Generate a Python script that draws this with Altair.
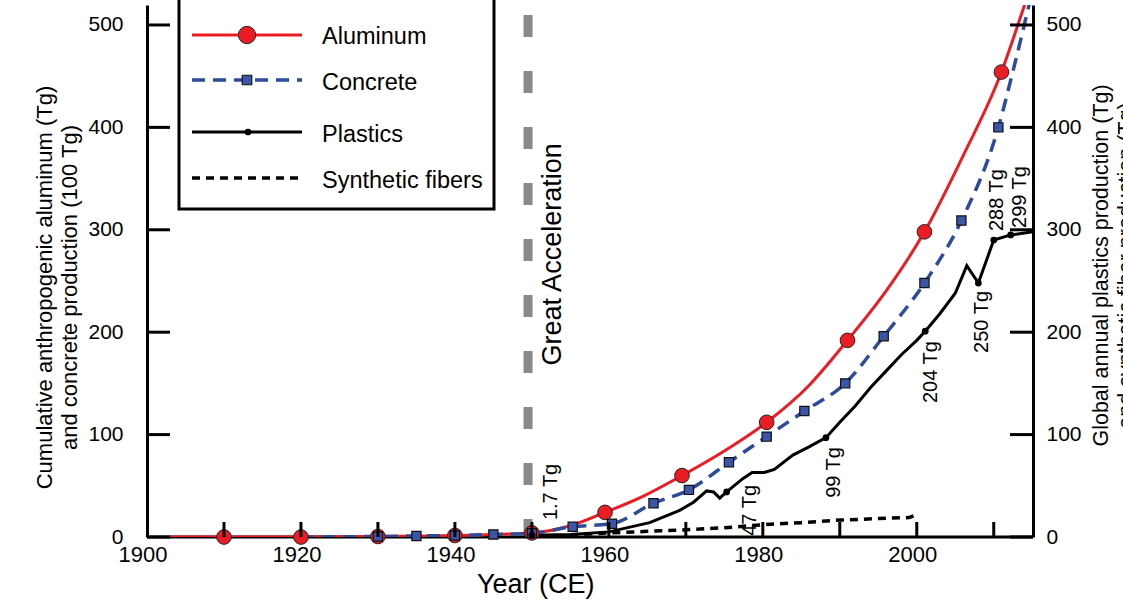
import altair as alt
import pandas as pd

# ---------------- data ----------------
al_line_year = [1903, 1910, 1920, 1930, 1940, 1950, 1955, 1959.5, 1964.5, 1969.5, 1975, 1980.5, 1986, 1991, 1996, 2001, 2006, 2011, 2013, 2015]
al_line_val = [0, 0, 0, 0.5, 1.5, 4, 11, 24, 40, 60, 84, 112, 148, 192, 240, 298, 372, 454, 497, 542]
al_mark_year = [1910, 1920, 1930, 1940, 1950, 1959.5, 1969.5, 1980.5, 1991, 2001, 2011]
al_mark_val = [0, 0, 0.5, 1.5, 4, 24, 60, 112, 192, 298, 454]

co_line_year = [1920, 1925, 1930, 1935, 1940, 1945, 1950, 1955.3, 1960.4, 1965.8, 1970.4, 1975.6, 1980.5, 1985.4, 1990.7, 1995.7, 2001, 2005.8, 2010.6, 2012.5, 2014.6]
co_line_val = [0, 0.2, 0.5, 1, 1.5, 2.5, 3.6, 10, 13, 33, 46, 73, 98, 123, 150, 196, 248, 309, 400, 455, 520]
co_mark_year = [1930, 1935, 1940, 1945, 1950, 1955.3, 1960.4, 1965.8, 1970.4, 1975.6, 1980.5, 1985.4, 1990.7, 1995.7, 2001, 2005.8, 2010.6]
co_mark_val = [0.5, 1, 1.5, 2.5, 3.6, 10, 13, 33, 46, 73, 98, 123, 150, 196, 248, 309, 400]

pl_line_year = [1950, 1955, 1960, 1965.3, 1969.2, 1971, 1972.7, 1973.6, 1974.4, 1975.3, 1977.4, 1978.6, 1980.2, 1981.5, 1983.9, 1986, 1988.2, 1990, 1992, 1994, 1996, 1998, 2000, 2001.1, 2003, 2005, 2006.5, 2008, 2010, 2012.2, 2015.1]
pl_line_val = [1.7, 2.5, 5, 14, 26, 34, 45, 44, 38, 44, 57, 63, 63, 66, 80, 88, 97, 112, 128, 146, 162, 178, 192, 201, 218, 238, 265, 248, 290, 295, 298]
pl_mark_year = [1950, 1975.3, 1988.2, 2001.1, 2008, 2010, 2012.2]
pl_mark_val = [1.7, 44, 97, 201, 248, 290, 295]

ann_text = ["1.7 Tg", "47 Tg", "99 Tg", "204 Tg", "250 Tg", "288 Tg", "299 Tg"]
ann_year = [1952.5, 1978.4, 1989.3, 2001.9, 2008.5, 2010.4, 2013.4]
ann_val = [44, 26, 63, 161, 210, 329, 332]

fi_year = [1955, 1960, 1965, 1970, 1975, 1980, 1985, 1990, 1995, 1999, 2000]
fi_val = [2, 4, 5.5, 7, 9, 12, 14, 16.5, 18, 19, 22]

ga_year = [1949.5]
ga_label = ["Great Acceleration"]
ga_label_year = [1952.7]
ga_label_val = [276]

x_tick_years = [1910, 1920, 1930, 1940, 1950, 1960, 1970, 1980, 1990, 2000, 2010]
x_label_years = [1900, 1920, 1940, 1960, 1980, 2000]
x_title = ["Year (CE)"]
x_title_year = [1950.5]
y_ticks = [0, 100, 200, 300, 400, 500]

legend_names = ["Aluminum", "Concrete", "Plastics", "Synthetic fibers"]

# ---------------- style ----------------
RED = "#ec1c24"
BLUE = "#2e4b9b"
SQ_FILL = "#3b55a8"
GREY = "#8a8a8a"
FONT = "Liberation Sans"

W, H = 886, 532
X0, X1 = 1900, 2015.1
YMAX = 519.5

xs = alt.Scale(domain=[X0, X1], nice=False, zero=False)
ys = alt.Scale(domain=[0, YMAX], nice=False, zero=False)


def X(field="year", axis=None):
    return alt.X(f"{field}:Q", scale=xs, axis=axis)


def Y(field="val", axis=None):
    return alt.Y(f"{field}:Q", scale=ys, axis=axis)


yl_axis = alt.Axis(orient="left", values=y_ticks, ticks=False, grid=False,
                   domainColor="black", domainWidth=3,
                   labelFontSize=21, labelColor="black", labelPadding=24, labelFont=FONT,
                   labelFlush=False,
                   title=["Cumulative anthropogenic aluminum (Tg)", "and concrete production (100 Tg)"],
                   titleFont=FONT, titleFontSize=22, titleFontWeight="normal", titleColor="black",
                   titleAngle=270, titleX=-103, titleY=282, titleAlign="center",
                   titleBaseline="middle", titleLineHeight=25)

yr_axis = alt.Axis(orient="right", values=y_ticks, ticks=False, grid=False,
                   domainColor="black", domainWidth=3,
                   labelFontSize=21, labelColor="black", labelPadding=13, labelFont=FONT,
                   labelFlush=False,
                   title=["Global annual plastics production (Tg)", "and synthetic fiber production (Tg)"],
                   titleFont=FONT, titleFontSize=21.5, titleFontWeight="normal", titleColor="black",
                   titleAngle=270, titleX=68, titleY=260, titleAlign="center",
                   titleBaseline="middle", titleLineHeight=25)

al_line_df = pd.DataFrame({"year": al_line_year, "val": al_line_val})
al_mark_df = pd.DataFrame({"year": al_mark_year, "val": al_mark_val})
co_line_df = pd.DataFrame({"year": co_line_year, "val": co_line_val})
co_mark_df = pd.DataFrame({"year": co_mark_year, "val": co_mark_val})
pl_line_df = pd.DataFrame({"year": pl_line_year, "val": pl_line_val})
pl_mark_df = pd.DataFrame({"year": pl_mark_year, "val": pl_mark_val})
fi_df = pd.DataFrame({"year": fi_year, "val": fi_val})
ann_df = pd.DataFrame({"year": ann_year, "val": ann_val, "text": ann_text})
ga_df = pd.DataFrame({"year": ga_year})
ga_lab_df = pd.DataFrame({"year": ga_label_year, "val": ga_label_val, "text": ga_label})
xt_df = pd.DataFrame({"year": x_tick_years})
yt_df = pd.DataFrame({"val": y_ticks})
xl_df = pd.DataFrame({"year": x_label_years, "text": [str(v) for v in x_label_years]})
xtitle_df = pd.DataFrame({"year": x_title_year, "text": x_title})

layers = []

# Great Acceleration dashed line
layers.append(alt.Chart(ga_df).mark_rule(color=GREY, strokeWidth=9, strokeDash=[22, 34],
                                          strokeDashOffset=46).encode(
    x=X(), y=alt.value(0), y2=alt.value(H)))
# bottom axis line
layers.append(alt.Chart(pd.DataFrame({"year": [X0, X1]})).mark_rule(color="black", strokeWidth=3).encode(
    x=alt.X("min(year):Q", scale=xs, axis=None), x2=alt.X2("max(year):Q"), y=alt.value(H)))
layers.append(alt.Chart(al_line_df).mark_line(color=RED, strokeWidth=3, interpolate="monotone",
                                               clip=True).encode(x=X(), y=Y(axis=yl_axis)))
# right axis carrier + plastics line
layers.append(alt.Chart(pl_line_df).mark_line(color="black", strokeWidth=3, clip=True).encode(
    x=X(), y=Y(axis=yr_axis)))
layers.append(alt.Chart(fi_df).mark_line(color="black", strokeWidth=3.5, strokeDash=[8, 6],
                                         clip=True).encode(x=X(), y=Y()))
layers.append(alt.Chart(co_line_df).mark_line(color=BLUE, strokeWidth=3.5, strokeDash=[13, 8],
                                               interpolate="monotone", clip=True).encode(x=X(), y=Y()))
layers.append(alt.Chart(al_mark_df).mark_point(shape="circle", filled=True, fill=RED, stroke="#222",
                                               strokeWidth=1, size=215, opacity=1).encode(x=X(), y=Y()))
layers.append(alt.Chart(co_mark_df).mark_point(shape="square", filled=True, fill=SQ_FILL, stroke="#111",
                                               strokeWidth=1.2, size=85, opacity=1).encode(x=X(), y=Y()))
layers.append(alt.Chart(pl_mark_df).mark_point(shape="circle", filled=True, fill="black",
                                               size=45, opacity=1).encode(x=X(), y=Y()))

# inward ticks
layers.append(alt.Chart(xt_df).mark_rule(color="black", strokeWidth=3).encode(
    x=X(), y=alt.value(H), y2=alt.value(H - 15)))
layers.append(alt.Chart(yt_df).mark_rule(color="black", strokeWidth=3).encode(
    y=Y(), x=alt.value(0), x2=alt.value(23)))
layers.append(alt.Chart(yt_df).mark_rule(color="black", strokeWidth=3).encode(
    y=Y(), x=alt.value(W - 23), x2=alt.value(W)))

# x tick labels and title, placed through the x scale
layers.append(alt.Chart(xl_df).mark_text(align="center", baseline="top", font=FONT, fontSize=22,
                                         color="black", dx=-4).encode(
    x=X(), y=alt.value(H + 8), text="text:N"))
layers.append(alt.Chart(xtitle_df).mark_text(align="center", baseline="middle", font=FONT, fontSize=27,
                                             color="black").encode(
    x=X(), y=alt.value(H + 48), text="text:N"))

# annotations
layers.append(alt.Chart(ann_df).mark_text(angle=270, align="center", baseline="middle", font=FONT,
                                          fontSize=20, color="black").encode(
    x=X(), y=Y(), text="text:N"))
layers.append(alt.Chart(ga_lab_df).mark_text(angle=270, align="center", baseline="middle", font=FONT,
                                             fontSize=27, color="black").encode(
    x=X(), y=Y(), text="text:N"))

# legend box
box_df = pd.DataFrame({"k": [0]})
layers.append(alt.Chart(box_df).mark_rect(fill="white", fillOpacity=1, stroke="black",
                                          strokeWidth=3).encode(
    x=alt.value(32), x2=alt.value(347), y=alt.value(-20), y2=alt.value(204)))

rows_y = [30, 75, 127, 173]
text_y = [32, 78, 130, 176]
line_styles = [dict(color=RED, strokeWidth=3),
               dict(color=BLUE, strokeWidth=3.5, strokeDash=[13, 8], strokeDashOffset=0),
               dict(color="black", strokeWidth=3),
               dict(color="black", strokeWidth=3.5, strokeDash=[8, 6])]
for i, name in enumerate(legend_names):
    d = pd.DataFrame({"name": [name]})
    layers.append(alt.Chart(d).mark_rule(**line_styles[i]).encode(
        x=alt.value(45), x2=alt.value(155), y=alt.value(rows_y[i])))
    layers.append(alt.Chart(d).mark_text(align="left", baseline="middle", font=FONT, fontSize=23.5,
                                         color="black").encode(
        x=alt.value(175), y=alt.value(text_y[i]), text="name:N"))

leg_pts = [
    alt.Chart(pd.DataFrame({"name": [legend_names[0]]})).mark_point(
        shape="circle", filled=True, fill=RED, stroke="#222", strokeWidth=1, size=300, opacity=1).encode(
        x=alt.value(100), y=alt.value(rows_y[0])),
    alt.Chart(pd.DataFrame({"name": [legend_names[1]]})).mark_point(
        shape="square", filled=True, fill=SQ_FILL, stroke="#111", strokeWidth=1.2, size=90, opacity=1).encode(
        x=alt.value(100), y=alt.value(rows_y[1])),
    alt.Chart(pd.DataFrame({"name": [legend_names[2]]})).mark_point(
        shape="circle", filled=True, fill="black", size=45, opacity=1).encode(
        x=alt.value(101), y=alt.value(rows_y[2])),
]
layers.extend(leg_pts)

chart = alt.layer(*layers).resolve_axis(y="independent").properties(
    width=W, height=H,
    autosize=alt.AutoSizeParams(type="none"),
    padding={"left": 147, "top": 5, "right": 90, "bottom": 66},
    view=alt.ViewBackground(stroke="transparent", strokeWidth=0),
).configure(font=FONT).configure_view(stroke="transparent", strokeWidth=0)

chart.save("out.html", embed_options={"renderer": "svg", "actions": False})
